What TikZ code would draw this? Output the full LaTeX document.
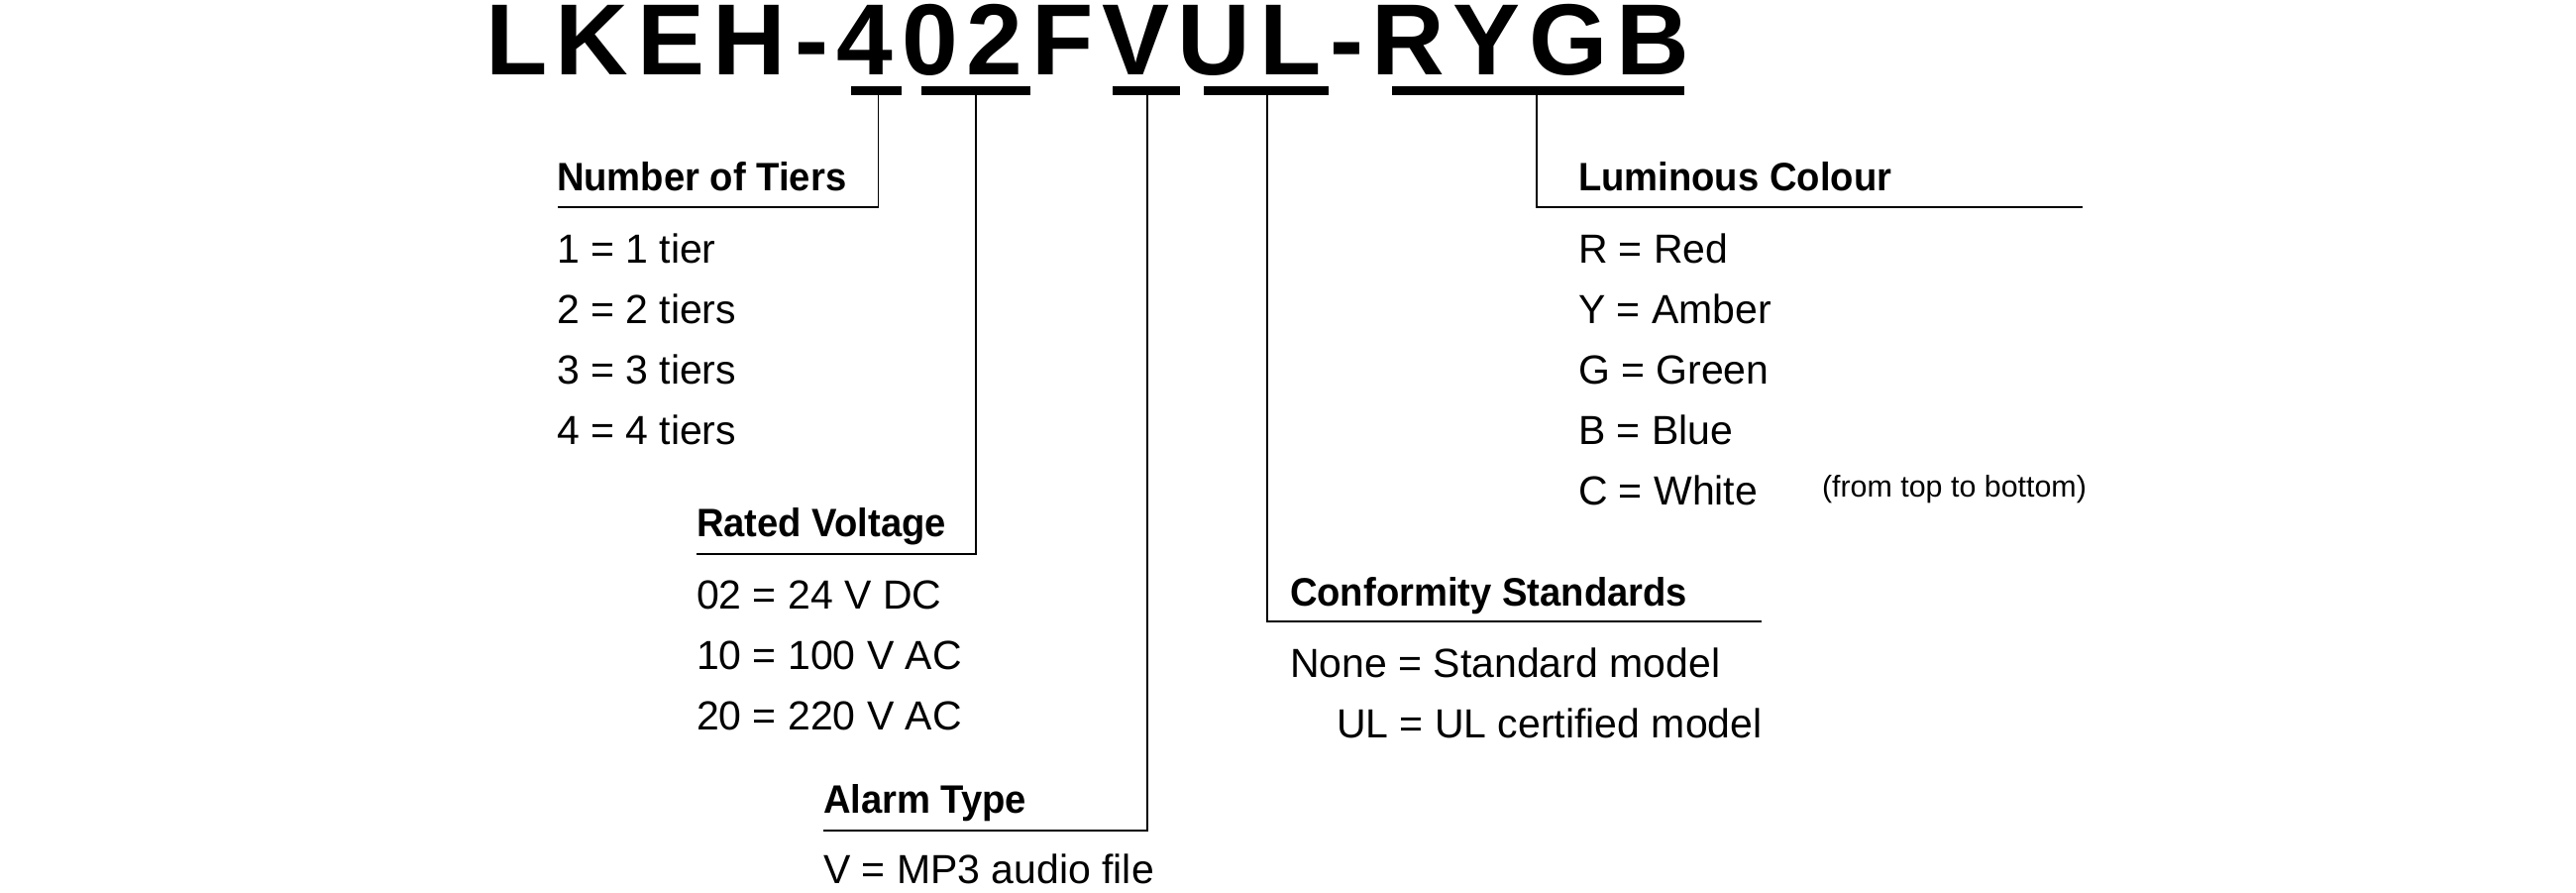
\documentclass[tikz,border=0pt]{standalone}
\usepackage{fontspec}
\setmainfont{Liberation Sans}
\newfontfamily\titlefont[LetterSpace=8.5,Kerning=Off]{Liberation Sans}
\newfontfamily\headfont[FakeStretch=0.955]{Liberation Sans}
\begin{document}
\begin{tikzpicture}[x=0.5pt,y=-0.5pt,
  txt/.style={anchor=base west, inner sep=0pt, outer sep=0pt, font=\fontsize{20.5pt}{24pt}\selectfont},
  head/.style={anchor=base west, inner sep=0pt, outer sep=0pt, font=\headfont\bfseries\fontsize{20pt}{24pt}\selectfont},
  note/.style={anchor=base west, inner sep=0pt, outer sep=0pt, font=\fontsize{15.2pt}{18pt}\selectfont},
  conn/.style={line width=0.9pt, draw=black},
  bar/.style={fill=black}]
\useasboundingbox (0,0) rectangle (2600,900);

% title
\node[anchor=base west, inner sep=0pt, outer sep=0pt, text height=36pt, text depth=0pt,
      font=\titlefont\bfseries\fontsize{51pt}{60pt}\selectfont] (title) at (490,75.5) {LKEH-402FVUL-RYGB};

% underline bars
\path[bar] (858.5,87) rectangle (910.3,96);
\path[bar] (930,87) rectangle (1040,96);
\path[bar] (1123,87) rectangle (1191,96);
\path[bar] (1215,87) rectangle (1341,96);
\path[bar] (1405,87) rectangle (1700,96);

% connector points
\coordinate (b1) at (886.5,96);  \coordinate (k1) at (886.5,209.3); \coordinate (e1) at (563,209.3);
\coordinate (b2) at (985,96);    \coordinate (k2) at (985,558.7);   \coordinate (e2) at (703,558.7);
\coordinate (b3) at (1158,96);   \coordinate (k3) at (1158,837.7);  \coordinate (e3) at (831,837.7);
\coordinate (b4) at (1279,96);   \coordinate (k4) at (1279,627.3);  \coordinate (e4) at (1778,627.3);
\coordinate (b5) at (1551,96);   \coordinate (k5) at (1551,209.3);  \coordinate (e5) at (2102,209.3);

\draw[conn] (b1) -- (k1) -- (e1);
\draw[conn] (b2) -- (k2) -- (e2);
\draw[conn] (b3) -- (k3) -- (e3);
\draw[conn] (b4) -- (k4) -- (e4);
\draw[conn] (b5) -- (k5) -- (e5);

% Number of Tiers
\node[head] (tiers) at (562,192.7) {Number of Tiers};
\node[txt] (t1) at (562,265) {1 = 1 tier};
\node[txt] (t2) at (562,326) {2 = 2 tiers};
\node[txt] (t3) at (562,387) {3 = 3 tiers};
\node[txt] (t4) at (562,448) {4 = 4 tiers};

% Rated Voltage
\node[head] (volt) at (703,541.7) {Rated Voltage};
\node[txt] (v1) at (703,614) {02 = 24 V DC};
\node[txt] (v2) at (703,675) {10 = 100 V AC};
\node[txt] (v3) at (703,736) {20 = 220 V AC};

% Alarm Type
\node[head] (alarm) at (831,820.7) {Alarm Type};
\node[txt] (a1) at (831,891.7) {V = MP3 audio file};

% Conformity Standards
\node[head] (conf) at (1302,611) {Conformity Standards};
\node[txt] (c1) at (1302,683.3) {None = Standard model};
\node[txt] (c2) at (1349,744.3) {UL = UL certified model};

% Luminous Colour
\node[head] (lum) at (1593,192.7) {Luminous Colour};
\node[txt] (l1) at (1593,265) {R = Red};
\node[txt] (l2) at (1593,326) {Y = Amber};
\node[txt] (l3) at (1593,387) {G = Green};
\node[txt] (l4) at (1593,448) {B = Blue};
\node[txt] (l5) at (1593,509) {C = White};
\node[note] (order) at (1839,501.7) {(from top to bottom)};
\end{tikzpicture}
\end{document}
